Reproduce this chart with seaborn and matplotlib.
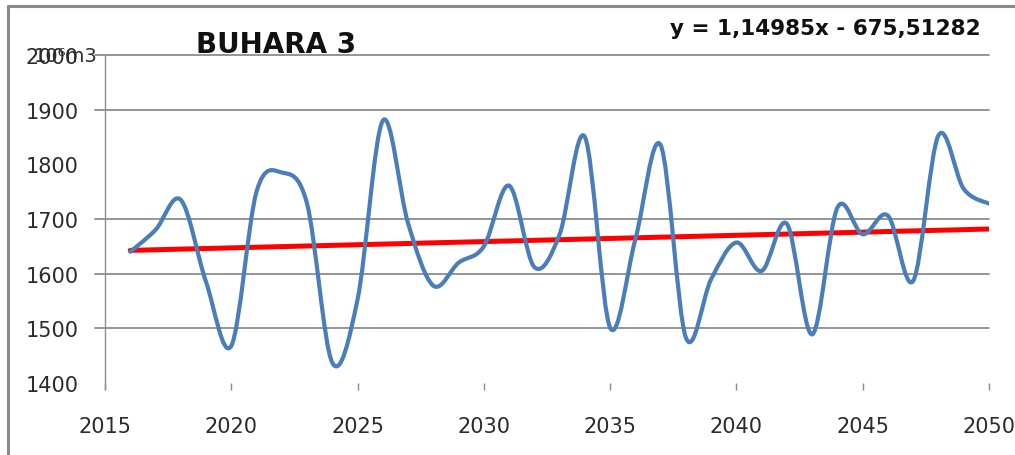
import matplotlib
matplotlib.use("Agg")
import matplotlib.pyplot as plt
import numpy as np
import seaborn as sns
from matplotlib.lines import Line2D
from matplotlib.patches import PathPatch
from matplotlib.path import Path


YEARS = list(range(2016, 2051))
VOLUMES = [
    1640, 1680, 1735, 1585, 1468, 1750, 1785, 1728, 1437, 1553,
    1880, 1692, 1578, 1620, 1650, 1761, 1612, 1672, 1850, 1501,
    1663, 1835, 1483, 1590, 1657, 1605, 1691, 1489, 1721, 1672,
    1706, 1587, 1853, 1755, 1728,
]

TREND_SLOPE = 1.14985
TREND_INTERCEPT = -675.51282
TREND_LABEL = "y = 1,14985x - 675,51282"
TITLE = "BUHARA 3"
UNIT_LABEL = "10⁶m3"

X_TICKS = list(range(2015, 2051, 5))
Y_TICKS = [1400, 1500, 1600, 1700, 1800, 1900, 2000]
GRID_VALUES = [1500, 1600, 1700, 1900, 2000]

BLUE = "#4a7ebb"
RED = "#ff0000"
GRID_GRAY = "#8c8c8c"
TEXT_COLOR = "#2b2b2b"


def smooth_path(xs, ys):
    # excel style smoothed line: cubic bezier through every point
    pts = np.column_stack([xs, ys]).astype(float)
    padded = np.vstack([pts[0], pts, pts[-1]])
    verts = [pts[0]]
    codes = [Path.MOVETO]
    for i in range(1, len(padded) - 2):
        p0, p1, p2, p3 = padded[i - 1], padded[i], padded[i + 1], padded[i + 2]
        c1 = p1 + (p2 - p0) / 6.0
        c2 = p2 - (p3 - p1) / 6.0
        verts += [c1, c2, p2]
        codes += [Path.CURVE4] * 3
    return Path(verts, codes)


sns.set_style("white")
plt.rcParams["font.family"] = ["DejaVu Sans"]

W, H = 1015, 456
fig = plt.figure(figsize=(W / 100, H / 100), dpi=100)
ax = fig.add_axes([105 / W, 1 - 384 / H, 884 / W, 328 / H])

ax.set_xlim(2015, 2050)
ax.set_ylim(1400, 2000)

for value in GRID_VALUES:
    ax.axhline(value, xmin=-10 / 884, xmax=1, color=GRID_GRAY, lw=1.3, clip_on=False, zorder=1)

trend_years = np.array([YEARS[0], YEARS[-1]])
trend_values = TREND_SLOPE * trend_years + TREND_INTERCEPT
sns.lineplot(x=trend_years, y=trend_values, ax=ax, color=RED, lw=3.6, zorder=3)

ax.add_patch(PathPatch(smooth_path(YEARS, VOLUMES), fill=False, edgecolor=BLUE,
                       lw=3.0, capstyle="round", joinstyle="round", zorder=4))

ax.set_xticks(X_TICKS)
ax.set_yticks(Y_TICKS)
ax.tick_params(axis="x", direction="out", length=5, width=1, color=GRID_GRAY,
               labelsize=15, labelcolor=TEXT_COLOR, pad=19, bottom=True)
ax.tick_params(axis="y", length=0, labelsize=15, labelcolor=TEXT_COLOR, pad=19)

for side in ["top", "right", "bottom"]:
    ax.spines[side].set_visible(False)
ax.spines["left"].set_color(GRID_GRAY)
ax.spines["left"].set_linewidth(1.0)
ax.spines["left"].set_bounds(1400 - 600 * 6 / 328, 2000)
ax.set_xlabel("")
ax.set_ylabel("")

ax.text((276 - 105) / 884, 1 + (56 - 45) / 328, TITLE, transform=ax.transAxes,
        ha="center", va="center", fontsize=20, fontweight="bold", color="#111111")
fig.text(981 / W, 1 - 29 / H, TREND_LABEL, ha="right", va="center",
         fontsize=15.5, fontweight="bold", color="#111111")
fig.text(98 / W, 1 - 57 / H, UNIT_LABEL, ha="right", va="center",
         fontsize=14, color=TEXT_COLOR)

# outer frame of the chart area
fig.add_artist(Line2D([8 / W, 8 / W], [0, 1 - 7 / H], color="#8a8a8a", lw=2.2))
fig.add_artist(Line2D([8 / W, 1], [1 - 7 / H, 1 - 7 / H], color="#8a8a8a", lw=2.2))

fig.savefig("out.png", dpi=100)
